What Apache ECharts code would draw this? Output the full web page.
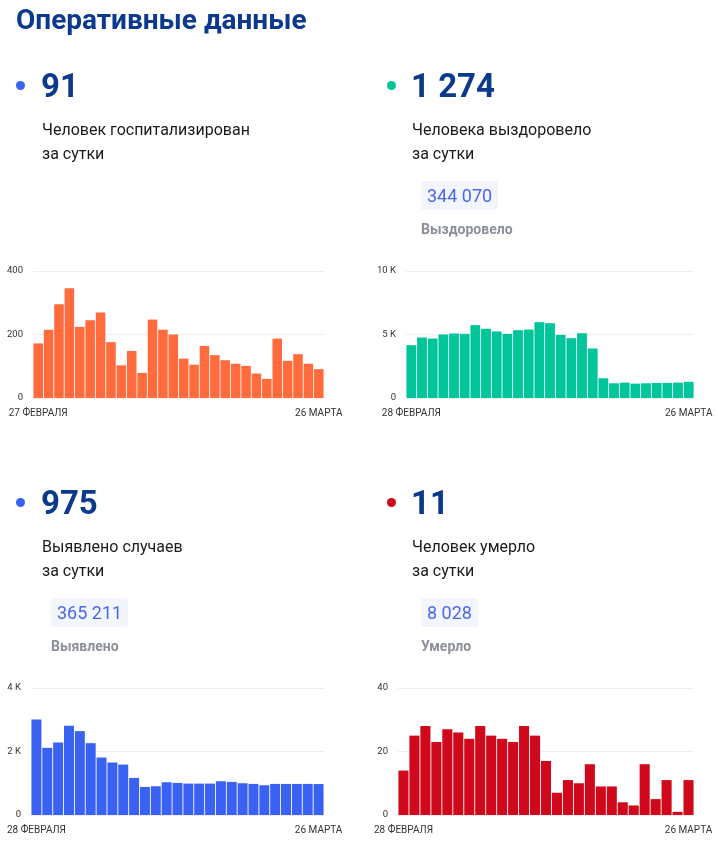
<!DOCTYPE html>
<html><head><meta charset="utf-8">
<script src="https://cdn.jsdelivr.net/npm/echarts@6/dist/echarts.min.js"></script>
<style>
html,body{margin:0;padding:0;background:#fff;}
body{width:718px;height:848px;position:relative;overflow:hidden;font-family:Roboto,"Noto Sans",sans-serif;}
#chart{position:absolute;left:0;top:0;width:718px;height:848px;}
.t{position:absolute;white-space:nowrap;}
.title{left:16px;top:1px;font-size:28px;font-weight:700;color:#0b3a8c;line-height:38px;}
.big{font-size:33px;font-weight:700;color:#0b3a8c;line-height:40px;}
.dot{position:absolute;width:9px;height:9px;border-radius:50%;}
.lbl{font-size:16px;color:#1a1a1a;line-height:24px;}
.box{position:absolute;background:#f2f5fc;color:#4a68e8;font-size:18px;line-height:29px;padding:0 6px;border-radius:3px;}
.sub{font-size:14px;font-weight:700;color:#8b8f99;line-height:18px;}
</style></head>
<body>
<div id="chart"></div>
<div class="t title">Оперативные данные</div>

<div class="dot" style="left:16px;top:81px;background:#3a62f2"></div>
<div class="t big" style="left:41px;top:66px">91</div>
<div class="t lbl" style="left:42px;top:118px">Человек госпитализирован<br>за сутки</div>

<div class="dot" style="left:387px;top:81px;background:#00c49a"></div>
<div class="t big" style="left:411px;top:66px">1 274</div>
<div class="t lbl" style="left:412px;top:118px">Человека выздоровело<br>за сутки</div>
<div class="box" style="left:421px;top:181px">344 070</div>
<div class="t sub" style="left:421px;top:220px">Выздоровело</div>

<div class="dot" style="left:16px;top:498px;background:#3a62f2"></div>
<div class="t big" style="left:41px;top:483px">975</div>
<div class="t lbl" style="left:42px;top:535px">Выявлено случаев<br>за сутки</div>
<div class="box" style="left:51px;top:598px">365 211</div>
<div class="t sub" style="left:51px;top:637px">Выявлено</div>

<div class="dot" style="left:387px;top:498px;background:#d0081c"></div>
<div class="t big" style="left:411px;top:483px">11</div>
<div class="t lbl" style="left:412px;top:535px">Человек умерло<br>за сутки</div>
<div class="box" style="left:421px;top:598px">8 028</div>
<div class="t sub" style="left:421px;top:637px">Умерло</div>

<script>
const datesHosp = ["27 ФЕВРАЛЯ","28 ФЕВРАЛЯ","1 МАРТА","2 МАРТА","3 МАРТА","4 МАРТА","5 МАРТА","6 МАРТА","7 МАРТА","8 МАРТА","9 МАРТА","10 МАРТА","11 МАРТА","12 МАРТА","13 МАРТА","14 МАРТА","15 МАРТА","16 МАРТА","17 МАРТА","18 МАРТА","19 МАРТА","20 МАРТА","21 МАРТА","22 МАРТА","23 МАРТА","24 МАРТА","25 МАРТА","26 МАРТА"];
const dates = ["28 ФЕВРАЛЯ","1 МАРТА","2 МАРТА","3 МАРТА","4 МАРТА","5 МАРТА","6 МАРТА","7 МАРТА","8 МАРТА","9 МАРТА","10 МАРТА","11 МАРТА","12 МАРТА","13 МАРТА","14 МАРТА","15 МАРТА","16 МАРТА","17 МАРТА","18 МАРТА","19 МАРТА","20 МАРТА","21 МАРТА","22 МАРТА","23 МАРТА","24 МАРТА","25 МАРТА","26 МАРТА"];
const hospitalized = [172,215,295,346,224,245,269,176,103,148,79,247,215,200,124,105,164,135,119,108,101,77,60,187,117,138,108,91];
const recovered = [4160,4760,4680,5000,5080,5050,5740,5450,5240,5050,5340,5390,5970,5890,4970,4710,5100,3900,1550,1160,1210,1130,1160,1180,1190,1210,1274];
const detected = [3010,2116,2284,2810,2642,2263,1810,1653,1589,1168,884,905,1032,1010,989,989,989,1063,1042,1000,979,937,979,979,979,979,975];
const deaths = [14,25,28,23,27,26,24,28,25,24,23,28,25,17,7,11,10,16,9,9,4,3,16,5,11,1,11];

const colors = ['#ff6b3d','#00c49a','#3a62f2','#d0081c'];
const grids = [
  {left:33,right:394,top:271,bottom:450},
  {left:406,right:24,top:271,bottom:450},
  {left:31,right:394,top:688,bottom:33},
  {left:398,right:24,top:688,bottom:33}
];
const cats = [datesHosp, dates, dates, dates];
const vals = [hospitalized, recovered, detected, deaths];
const yMax = [400, 10000, 4000, 40];
const kFmt = v => v === 0 ? '0' : (v/1000) + ' K';
const yFmt = [v => String(v), kFmt, kFmt, v => String(v)];

const chart = echarts.init(document.getElementById('chart'), null, {renderer:'canvas'});
const option = {
  animation:false,
  grid: grids,
  xAxis: cats.map((c,i) => ({
    type:'category', gridIndex:i, data:c,
    axisLine:{show:false}, axisTick:{show:false},
    axisLabel:{
      interval:0, margin:10, fontSize:10, color:'#333', fontFamily:'Roboto',
      formatter:(v, idx) => (idx === 0 || idx === c.length-1) ? v : ''
    }
  })),
  yAxis: yMax.map((m,i) => ({
    type:'value', gridIndex:i, min:0, max:m, interval:m/2,
    axisLine:{show:false}, axisTick:{show:false},
    splitLine:{lineStyle:{color:'#eeeeee', width:1}},
    axisLabel:{fontSize:9.5, color:'#333', margin:10, fontFamily:'Roboto', formatter:yFmt[i]}
  })),
  series: vals.map((d,i) => ({
    type:'bar', xAxisIndex:i, yAxisIndex:i, data:d,
    barCategoryGap:'8%',
    itemStyle:{color:colors[i]}
  }))
};
chart.setOption(option);
</script>
</body></html>
